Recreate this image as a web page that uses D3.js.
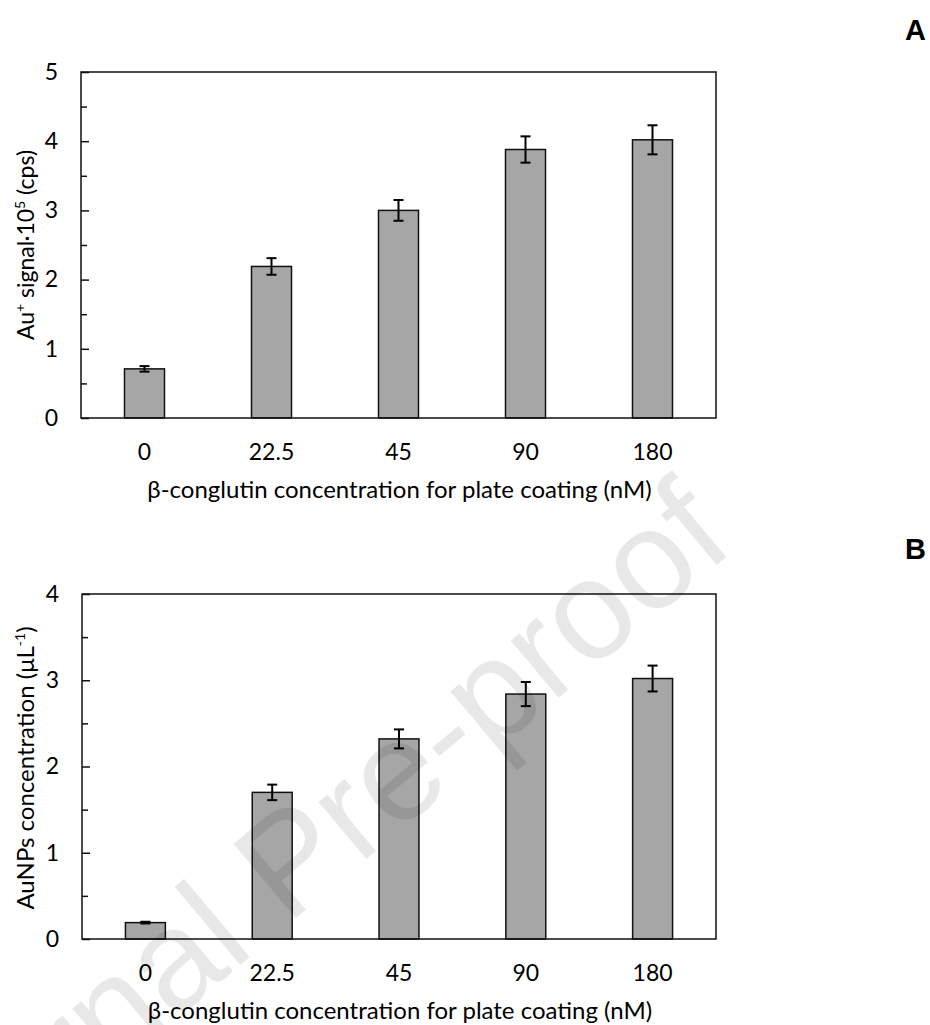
<!DOCTYPE html>
<html>
<head>
<meta charset="utf-8">
<script src="https://cdn.jsdelivr.net/npm/d3@7"></script>
<style>
  body { margin: 0; background: #fff; }
  svg { display: block; }
  text { font-family: Lato, "Open Sans", sans-serif; fill: #000; }
</style>
</head>
<body>
<svg id="chart"></svg>
<script>
// Chart data
const categories = ["0", "22.5", "45", "90", "180"];
const signalValues = [0.71, 2.19, 3.00, 3.88, 4.02];   // Au+ signal x10^5 (cps)
const signalErrors = [0.04, 0.12, 0.15, 0.19, 0.21];
const signalTicks = [0, 1, 2, 3, 4, 5];
const aunpValues = [0.19, 1.70, 2.32, 2.84, 3.02];     // AuNPs concentration (uL-1)
const aunpErrors = [0.01, 0.09, 0.11, 0.14, 0.15];
const aunpTicks = [0, 1, 2, 3, 4];
const xTitle = "β-conglutin concentration for plate coating (nM)";

const width = 930;
const height = 1025;

const svg = d3.select("#chart")
    .attr("width", width)
    .attr("height", height);

svg.append("rect")
    .attr("width", width)
    .attr("height", height)
    .attr("fill", "#fff");

// Draw one bar panel
function drawPanel(opt) {
    const g = svg.append("g");

    const x = d3.scaleBand()
        .domain(categories)
        .range([opt.left, opt.right])
        .paddingInner(0.685)
        .paddingOuter(0.3425);

    const y = d3.scaleLinear()
        .domain([0, d3.max(opt.ticks)])
        .range([opt.bottom, opt.top]);

    const minorTicks = d3.range(0.5, d3.max(opt.ticks), 1);

    // bars
    g.selectAll(".bar")
        .data(opt.values)
        .enter().append("rect")
        .attr("class", "bar")
        .attr("x", (d, i) => x(categories[i]))
        .attr("y", d => y(d))
        .attr("width", x.bandwidth())
        .attr("height", d => y(0) - y(d))
        .attr("fill", "#a6a6a6")
        .attr("stroke", "#111")
        .attr("stroke-width", 1.5);

    // error bars
    const err = g.selectAll(".err")
        .data(opt.values)
        .enter().append("g")
        .attr("class", "err")
        .attr("transform", (d, i) => `translate(${x(categories[i]) + x.bandwidth() / 2},0)`)
        .attr("stroke", "#000")
        .attr("stroke-width", 2);

    err.append("line")
        .attr("y1", (d, i) => y(d + opt.errors[i]))
        .attr("y2", (d, i) => y(d - opt.errors[i]));
    err.append("line")
        .attr("x1", -5).attr("x2", 5)
        .attr("y1", (d, i) => y(d + opt.errors[i]))
        .attr("y2", (d, i) => y(d + opt.errors[i]));
    err.append("line")
        .attr("x1", -5).attr("x2", 5)
        .attr("y1", (d, i) => y(d - opt.errors[i]))
        .attr("y2", (d, i) => y(d - opt.errors[i]));

    // y axis: major ticks with labels, pointing inwards
    const yAxis = g.append("g")
        .attr("transform", `translate(${opt.left},0)`)
        .call(d3.axisLeft(y).tickValues(opt.ticks).tickSizeInner(-8).tickSizeOuter(0)
            .tickPadding(23).tickFormat(d3.format("d")));
    yAxis.select(".domain").remove();
    yAxis.selectAll("line").attr("stroke", "#111").attr("stroke-width", 1.5);
    yAxis.selectAll("text")
        .style("font-family", "Lato, sans-serif")
        .style("font-size", "23px")
        .attr("fill", "#111");

    // minor ticks
    const yMinor = g.append("g")
        .attr("transform", `translate(${opt.left},0)`)
        .call(d3.axisLeft(y).tickValues(minorTicks).tickSize(-6).tickFormat(""));
    yMinor.select(".domain").remove();
    yMinor.selectAll("line").attr("stroke", "#111").attr("stroke-width", 1.5);

    // x axis labels (no tick marks)
    const xAxis = g.append("g")
        .attr("transform", `translate(0,${opt.bottom})`)
        .call(d3.axisBottom(x).tickSize(0).tickPadding(26));
    xAxis.select(".domain").remove();
    xAxis.selectAll("text")
        .style("font-family", "Lato, sans-serif")
        .style("font-size", "23px")
        .attr("fill", "#111");

    // frame
    g.append("rect")
        .attr("x", opt.left)
        .attr("y", opt.top)
        .attr("width", opt.right - opt.left)
        .attr("height", opt.bottom - opt.top)
        .attr("fill", "none")
        .attr("stroke", "#111")
        .attr("stroke-width", 1.5);

    // x title
    g.append("text")
        .attr("x", (opt.left + opt.right) / 2 + 1)
        .attr("y", opt.bottom + 80)
        .attr("text-anchor", "middle")
        .style("font-size", "24px")
        .text(xTitle);

    // y title
    const yt = g.append("text")
        .attr("transform", `translate(34,${opt.yTitleY}) rotate(-90)`)
        .attr("text-anchor", "middle")
        .style("font-size", opt.yTitleSize);
    opt.yTitle.forEach(part => {
        yt.append("tspan")
            .attr("dy", part.sup ? -9 : (part.after ? 9 : 0))
            .style("font-size", part.sup ? "14px" : opt.yTitleSize)
            .text(part.t);
    });

    // panel letter
    svg.append("text")
        .attr("x", 905)
        .attr("y", opt.letterY)
        .style("font-family", "'Liberation Sans', Arial, sans-serif")
        .style("font-weight", "bold")
        .style("font-size", "29px")
        .text(opt.letter);
}

drawPanel({
    left: 81, right: 716, top: 72, bottom: 418,
    values: signalValues, errors: signalErrors, ticks: signalTicks,
    yTitleY: 245, yTitleSize: "23px", letter: "A", letterY: 40,
    yTitle: [
        { t: "Au" }, { t: "+", sup: true }, { t: " signal·10", after: true },
        { t: "5", sup: true }, { t: " (cps)", after: true }
    ]
});

drawPanel({
    left: 82, right: 716, top: 594, bottom: 939,
    values: aunpValues, errors: aunpErrors, ticks: aunpTicks,
    yTitleY: 768, yTitleSize: "24px", letter: "B", letterY: 559,
    yTitle: [
        { t: "AuNPs concentration (μL" }, { t: "-1", sup: true }, { t: ")", after: true }
    ]
});

// watermark on top, very light
svg.append("text")
    .attr("transform", "translate(320,898) rotate(-40)")
    .attr("text-anchor", "middle")
    .style("font-family", "'Liberation Sans', Arial, sans-serif")
    .style("font-size", "141px")
    .attr("fill", "#000")
    .attr("fill-opacity", 0.09)
    .text("Journal Pre-proof");
</script>
</body>
</html>
